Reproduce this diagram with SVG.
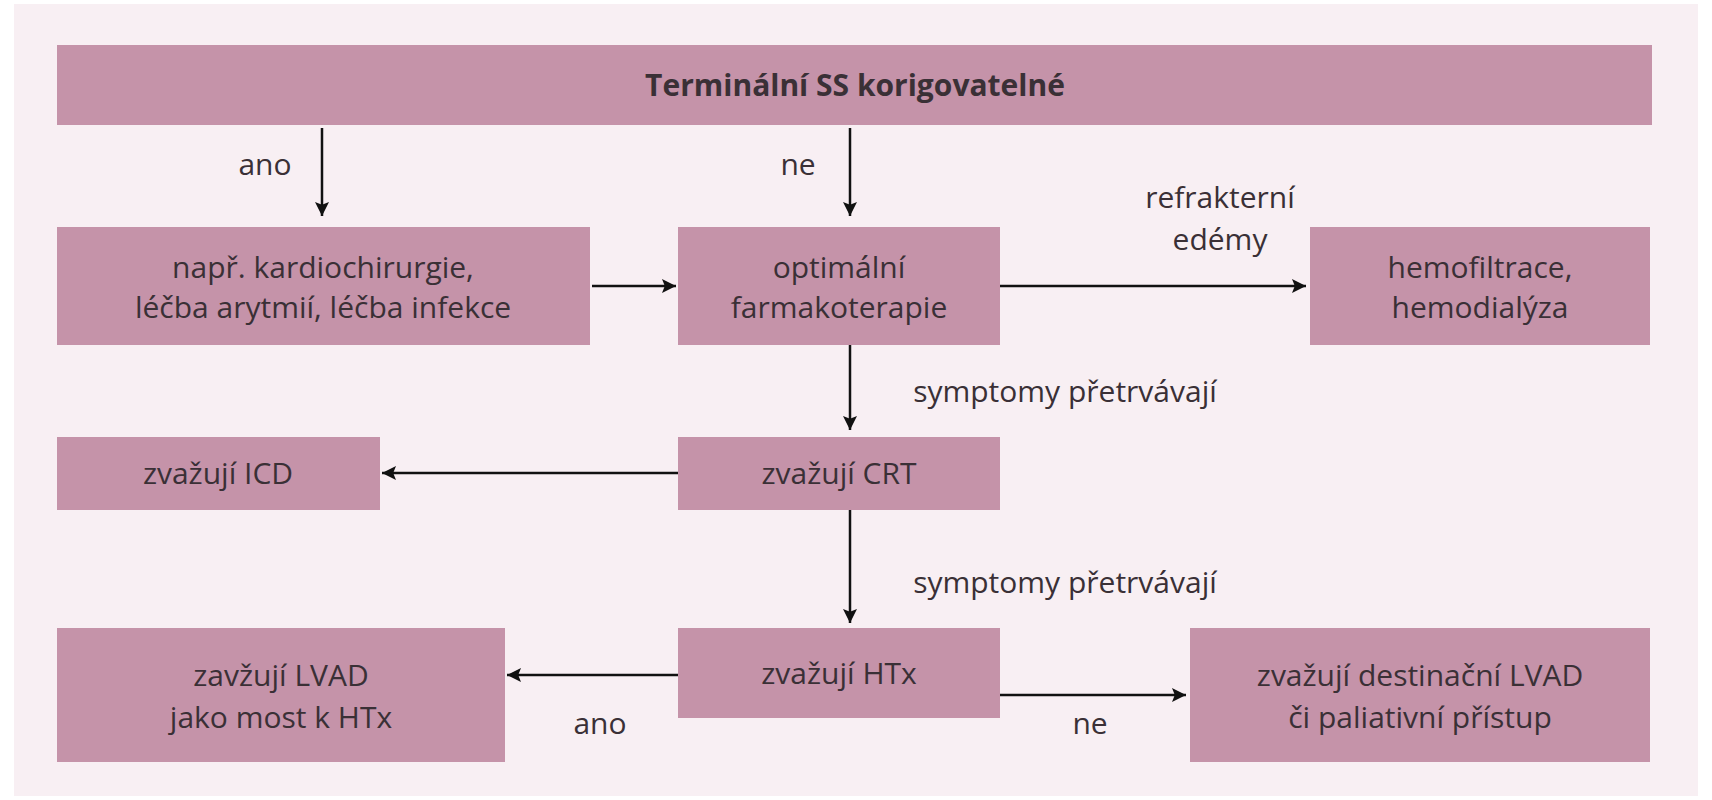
<svg xmlns="http://www.w3.org/2000/svg" width="1712" height="800" viewBox="0 0 1712 800">
<style>
.b{fill:#c593a9}
text{font-family:"Open Sans","Liberation Sans",sans-serif;font-size:30px;fill:#3a3036;text-anchor:middle}
.c line{stroke:#111;stroke-width:2.5;marker-end:url(#a)}
</style>
<defs><marker id="a" viewBox="0 0 10 10" refX="10" refY="5" markerWidth="16" markerHeight="14" orient="auto" markerUnits="userSpaceOnUse"><path d="M0,0L10,5L0,10L2,5Z" fill="#111"/></marker></defs>
<rect width="1712" height="800" fill="#fff"/>
<rect x="14" y="4" width="1684" height="792" fill="#f8eff3"/>
<g id="top"><rect class="b" x="57" y="45" width="1595" height="80"/><text x="855" y="96" font-weight="bold">Terminální SS korigovatelné</text></g>
<g id="n1"><rect class="b" x="57" y="227" width="533" height="118"/><text x="323" y="278">např. kardiochirurgie,</text><text x="323" y="318">léčba arytmií, léčba infekce</text></g>
<g id="n2"><rect class="b" x="678" y="227" width="322" height="118"/><text x="839" y="278">optimální</text><text x="839" y="318">farmakoterapie</text></g>
<g id="n3"><rect class="b" x="1310" y="227" width="340" height="118"/><text x="1480" y="278">hemofiltrace,</text><text x="1480" y="318">hemodialýza</text></g>
<g id="n4"><rect class="b" x="57" y="437" width="323" height="73"/><text x="218" y="484">zvažují ICD</text></g>
<g id="n5"><rect class="b" x="678" y="437" width="322" height="73"/><text x="839" y="484">zvažují CRT</text></g>
<g id="n6"><rect class="b" x="57" y="628" width="448" height="134"/><text x="281" y="686">zavžují LVAD</text><text x="281" y="728">jako most k HTx</text></g>
<g id="n7"><rect class="b" x="678" y="628" width="322" height="90"/><text x="839" y="684">zvažují HTx</text></g>
<g id="n8"><rect class="b" x="1190" y="628" width="460" height="134"/><text x="1420" y="686">zvažují destinační LVAD</text><text x="1420" y="728">či paliativní přístup</text></g>
<g class="c">
<line x1="322" y1="128" x2="322" y2="216"/>
<line x1="850" y1="128" x2="850" y2="216"/>
<line x1="592" y1="286" x2="676" y2="286"/>
<line x1="1000" y1="286" x2="1306" y2="286"/>
<line x1="850" y1="345" x2="850" y2="430"/>
<line x1="678" y1="473" x2="382" y2="473"/>
<line x1="850" y1="510" x2="850" y2="623"/>
<line x1="678" y1="675" x2="507" y2="675"/>
<line x1="1000" y1="695" x2="1186" y2="695"/>
</g>
<g id="labels">
<text x="265" y="175">ano</text>
<text x="798" y="175">ne</text>
<text x="1220" y="208">refrakterní</text>
<text x="1220" y="250">edémy</text>
<text x="1065" y="402">symptomy přetrvávají</text>
<text x="1065" y="593">symptomy přetrvávají</text>
<text x="600" y="734">ano</text>
<text x="1090" y="734">ne</text>
</g>
</svg>
